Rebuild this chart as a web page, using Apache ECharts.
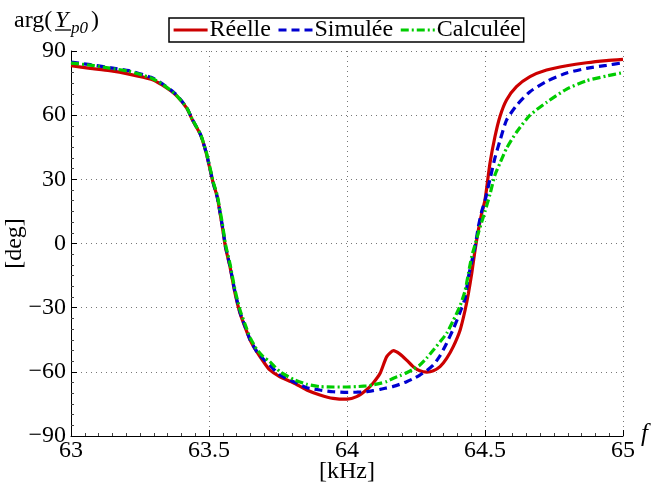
<!DOCTYPE html>
<html>
<head>
<meta charset="utf-8">
<script src="https://cdn.jsdelivr.net/npm/echarts@6/dist/echarts.min.js"></script>
<style>
html,body{margin:0;padding:0;background:#fff;}
#chart{width:659px;height:490px;}
</style>
</head>
<body>
<div id="chart"></div>
<script>
// Frequency grid (kHz)
var freq = [63.00, 63.07, 63.14, 63.21, 63.29, 63.33, 63.38, 63.42, 63.44, 63.47, 63.49, 63.50, 63.515, 63.53, 63.54, 63.55, 63.56, 63.576, 63.594, 63.612, 63.63, 63.649, 63.673, 63.697, 63.72, 63.757, 63.806, 63.854, 63.902, 63.95, 64.0, 64.035, 64.07, 64.095, 64.12, 64.144, 64.168, 64.192, 64.216, 64.24, 64.264, 64.289, 64.313, 64.337, 64.361, 64.385, 64.41, 64.428, 64.44, 64.452, 64.464, 64.476, 64.488, 64.5, 64.518, 64.536, 64.554, 64.578, 64.614, 64.663, 64.723, 64.796, 64.868, 64.94, 65.0];
// Phase values (deg)
var reelle = [83.1, 81.9, 80.8, 79.2, 76.8, 74.1, 69.4, 63.2, 57.7, 50.7, 42.3, 36.7, 28.3, 21.7, 14.3, 6.3, -2, -10.8, -23.1, -32.5, -38.9, -45.1, -50.6, -55.2, -59.1, -62.3, -65.1, -68.5, -70.8, -72.4, -72.8, -71.6, -68.5, -65.2, -60.7, -52.9, -50.1, -51.7, -54.5, -57.6, -59.5, -60.1, -59.5, -57.6, -53.7, -48.2, -40.4, -31.1, -23.3, -13.9, -3.0, 6.3, 14.1, 20.3, 37.5, 49.9, 59.3, 67.1, 73.3, 78.0, 81.1, 83.1, 84.5, 85.5, 86.1];
var simulee = [84.8, 83.6, 82.2, 80.8, 77.7, 74.8, 69.8, 63.4, 57.9, 50.7, 42.5, 37, 28.5, 21.5, 14.5, 7, -1.5, -10.5, -22.5, -32, -38.5, -45, -50.5, -54, -56.8, -61.5, -64.6, -67.4, -68.5, -69.3, -69.6, -69.5, -69.3, -68.8, -68.2, -67.5, -66.8, -65.8, -64.6, -63.2, -61.5, -59.4, -56.8, -52.5, -46.6, -40, -32, -25.5, -15.5, -8.5, -1.5, 7.9, 15, 20, 30, 40, 48, 57.7, 64.5, 71, 75.8, 79.7, 81.9, 83.3, 84.5];
var calculee = [84.3, 83.4, 82.0, 80.5, 77.4, 74.6, 69.6, 63.3, 57.9, 50.9, 42.8, 37.5, 29, 22.5, 15.5, 8, -0.5, -9.5, -21.5, -31, -37.5, -44, -49.5, -53, -55.2, -59.9, -63.5, -65.8, -66.9, -67.1, -67.1, -66.9, -66.6, -66.1, -65.4, -64.5, -63.0, -61.8, -60.4, -58.8, -56.8, -53.5, -49.8, -46, -42.0, -36, -29, -22, -13.9, -6, -0.5, 5, 10, 15, 23, 32, 37.5, 44.5, 52, 60, 66, 72.2, 76.1, 78.3, 79.9];
var seriesNames = ['Réelle', 'Simulée', 'Calculée'];
var xTicks = [63, 63.5, 64, 64.5, 65];
var yTicks = [-90, -60, -30, 0, 30, 60, 90];

function pairs(ys){ return freq.map(function(f,i){ return [f, ys[i]]; }); }

var FONT = 'Liberation Serif';
var chart = echarts.init(document.getElementById('chart'));
var axisText = {color:'#000', fontFamily:FONT, fontSize:24};
chart.setOption({
  animation:false,
  backgroundColor:'#fff',
  textStyle:{fontFamily:FONT},
  grid:{left:71, right:36, top:51, bottom:54, containLabel:false, outerBoundsMode:'none'},
  legend:{
    left:169, top:18,
    data:seriesNames,
    itemWidth:34, itemHeight:10, itemGap:6,
    padding:[0,3,0,3],
    itemStyle:{opacity:0},
    lineStyle:{width:3.2},
    borderColor:'#000', borderWidth:1.5, backgroundColor:'#fff',
    textStyle:{color:'#000', fontFamily:FONT, fontSize:24, lineHeight:21, padding:[0,0,0,-3]}
  },
  xAxis:{
    type:'value', min:xTicks[0], max:xTicks[xTicks.length-1], interval:0.5,
    name:'[kHz]', nameLocation:'middle', nameGap:24, nameMoveOverlap:false,
    nameTextStyle:{color:'#000', fontFamily:FONT, fontSize:24},
    axisLine:{show:true, onZero:false, lineStyle:{color:'#000', width:1}},
    axisTick:{show:true, inside:true, length:6, lineStyle:{color:'#000'}},
    minorTick:{show:true, splitNumber:10, length:3, lineStyle:{color:'#444'}},
    axisLabel:Object.assign({margin:3, formatter:function(v){return String(v);}}, axisText),
    splitLine:{show:true, lineStyle:{color:'#777', type:[1,4], width:1}}
  },
  yAxis:{
    type:'value', min:yTicks[0], max:yTicks[yTicks.length-1], interval:30,
    name:'[deg]', nameLocation:'middle', nameGap:44, nameRotate:90, nameMoveOverlap:false,
    nameTextStyle:{color:'#000', fontFamily:FONT, fontSize:24},
    axisLine:{show:true, onZero:false, lineStyle:{color:'#000', width:1}},
    axisTick:{show:true, inside:true, length:6, lineStyle:{color:'#000'}},
    minorTick:{show:true, splitNumber:6, length:3, lineStyle:{color:'#444'}},
    axisLabel:Object.assign({margin:5, formatter:function(v){return String(v).replace('-', '\u2212');}}, axisText),
    splitLine:{show:true, lineStyle:{color:'#777', type:[1,4], width:1}}
  },
  series:[
    {name:seriesNames[0], type:'line', data:pairs(reelle), showSymbol:false, symbol:'none', smooth:0.2, z:2,
     lineStyle:{color:'#cc0000', width:3.2}, itemStyle:{color:'#cc0000'}},
    {name:seriesNames[1], type:'line', data:pairs(simulee), showSymbol:false, symbol:'none', smooth:0.2, z:3,
     lineStyle:{color:'#0000d0', width:3.2, type:[8,5]}, itemStyle:{color:'#0000d0'}},
    {name:seriesNames[2], type:'line', data:pairs(calculee), showSymbol:false, symbol:'none', smooth:0.2, z:4,
     lineStyle:{color:'#00cc00', width:3.2, type:[8,3,2,3]}, itemStyle:{color:'#00cc00'}}
  ],
  graphic:[
    {type:'text', left:14, top:9, style:{text:'arg(', font:'24px "Liberation Serif"', fill:'#000'}},
    {type:'text', left:55, top:9, style:{text:'Y', font:'italic 24px "Liberation Serif"', fill:'#000'}},
    {type:'line', shape:{x1:55, y1:30, x2:71, y2:30}, style:{stroke:'#000', lineWidth:1.3}},
    {type:'text', left:71, top:20, style:{text:'p0', font:'italic 17px "Liberation Serif"', fill:'#000'}},
    {type:'text', left:91, top:9, style:{text:')', font:'24px "Liberation Serif"', fill:'#000'}},
    {type:'text', left:641, top:422, style:{text:'f', font:'italic 25px "Liberation Serif"', fill:'#000'}}
  ]
});
</script>
</body>
</html>
